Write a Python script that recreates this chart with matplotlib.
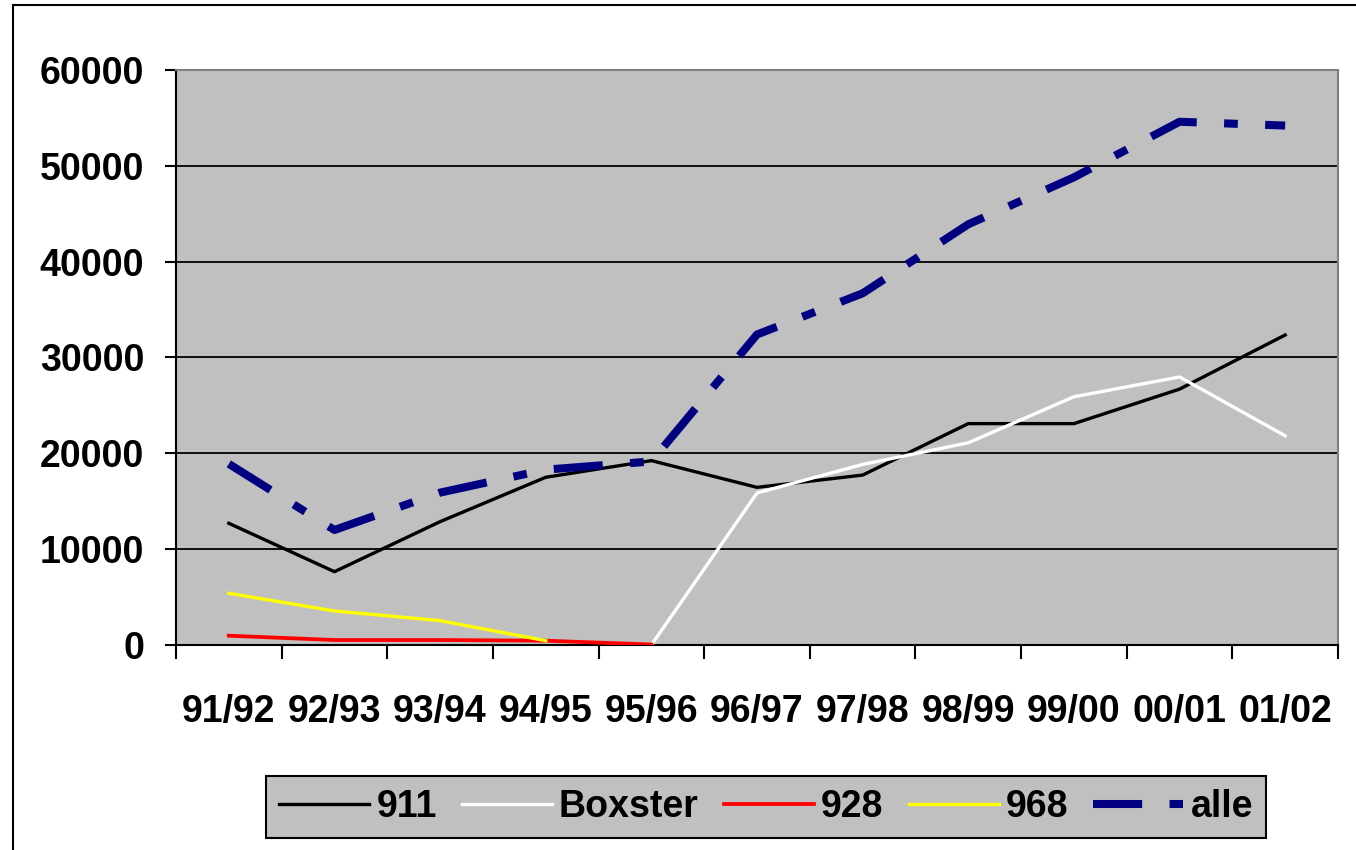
import numpy as np
import matplotlib.pyplot as plt
from matplotlib.patches import Rectangle

plt.rcParams['font.family'] = ['Liberation Sans', 'DejaVu Sans']
plt.rcParams['font.weight'] = 'bold'

seasons = ['91/92', '92/93', '93/94', '94/95', '95/96', '96/97',
           '97/98', '98/99', '99/00', '00/01', '01/02']

# sales per model (None = no data)
p911 = [12700, 7650, 12870, 17500, 19240, 16450, 17730, 23100, 23100, 26700, 32350]
boxster = [None, None, None, None, 0, 15860, 18840, 21100, 25900, 27970, 21830]
p928 = [970, 520, 520, 450, 50, None, None, None, None, None, None]
p968 = [5400, 3550, 2540, 450, None, None, None, None, None, None, None]
alle = [18900, 12000, 15900, 18300, 19150, 32400, 36700, 43900, 48800, 54600, 54200]


def arr(v):
    return np.array([np.nan if x is None else x for x in v], dtype=float)


fig = plt.figure(figsize=(13.56, 8.5), dpi=100)
ax = fig.add_axes([176 / 1356, 1 - 645 / 850, (1338 - 176) / 1356, (645 - 70) / 850])
ax.set_facecolor('#c0c0c0')

x = np.arange(len(seasons))
ax.plot(x, arr(p911), color='black', lw=2.4, label='911', zorder=3)
ax.plot(x, arr(boxster), color='white', lw=2.4, label='Boxster', zorder=3)
ax.plot(x, arr(p928), color='red', lw=2.7, label='928', zorder=3)
ax.plot(x, arr(p968), color='yellow', lw=2.4, label='968', zorder=3)
ax.plot(x, arr(alle), color='#000080', lw=5.8, dashes=(6.1, 3.4, 1.7, 3.4),
        dash_capstyle='butt', solid_joinstyle='miter', label='alle', zorder=4)

ax.set_xlim(-0.5, len(seasons) - 0.5)
ax.set_ylim(0, 60000)
ax.set_yticks(np.arange(0, 60001, 10000))
ax.yaxis.grid(True, color='black', lw=1.3)
ax.set_axisbelow(True)

ax.set_xticks(np.arange(-0.5, len(seasons), 1.0))
ax.set_xticklabels([])
ax.set_xticks(x, minor=True)
ax.set_xticklabels(seasons, minor=True)
ax.tick_params(axis='x', which='major', length=10, width=1.5, direction='out')
ax.tick_params(axis='x', which='minor', length=0, pad=35, labelsize=27)
ax.tick_params(axis='y', length=8, width=1.5, direction='out', pad=15, labelsize=27)

for s in ['left', 'bottom']:
    ax.spines[s].set_color('black')
    ax.spines[s].set_linewidth(1.5)
for s in ['top', 'right']:
    ax.spines[s].set_color('#808080')
    ax.spines[s].set_linewidth(1.5)

leg = fig.legend(loc='center', bbox_to_anchor=(766 / 1356, 1 - 807 / 850),
                 ncol=5, fontsize=27, frameon=True, fancybox=False,
                 handlelength=2.4, handletextpad=0.19, columnspacing=0.67,
                 borderpad=0.35, borderaxespad=0)
leg.get_frame().set_facecolor('#c0c0c0')
leg.get_frame().set_edgecolor('black')
leg.get_frame().set_linewidth(1.5)
leg.get_frame().set_alpha(1)

# outer chart border
fig.patches.append(Rectangle((13 / 1356, -0.05), 1.05, 1 - 5 / 850 + 0.05,
                             transform=fig.transFigure, fill=False,
                             edgecolor='black', lw=1.5))

fig.savefig('out.png', dpi=100)
